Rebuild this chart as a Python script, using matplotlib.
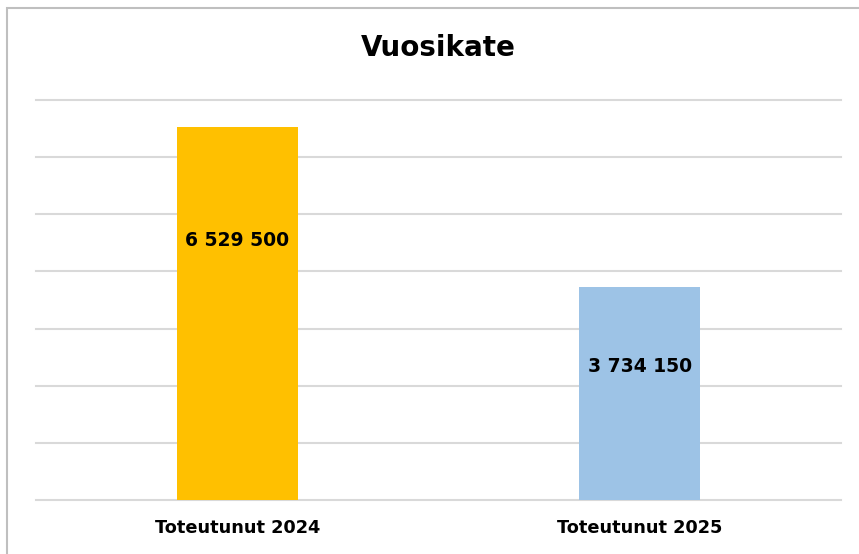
import matplotlib.pyplot as plt
from matplotlib.patches import Rectangle

# data
categories = ['Toteutunut 2024', 'Toteutunut 2025']
values = [6529500, 3734150]
colors = ['#FFC000', '#9DC3E6']
# where the value labels sit (data units), as placed in the original chart
label_y = [4550000, 2345000]

fig = plt.figure(figsize=(8.59, 5.54), dpi=100)
# chart border (only left/top visible in the crop)
fig.patches.append(Rectangle((7/859, -0.1), 1.2, 1.1 - 8/554, transform=fig.transFigure,
                             fill=False, edgecolor='#BFBFBF', linewidth=1.5))

ax = fig.add_axes([36/859, 1 - 500/554, 805/859, 400/554])
x = range(len(categories))
bars = ax.bar(x, values, width=0.30, color=colors, zorder=3)

for b, v, ly in zip(bars, values, label_y):
    label = f'{v:,}'.replace(',', ' ')
    ax.text(b.get_x() + b.get_width()/2, ly, label, ha='center', va='center',
            fontsize=13.5, fontweight='bold', color='black', zorder=4)

ax.set_xlim(-0.5, 1.5)
ax.set_ylim(0, 7000000)
ax.set_yticks(range(0, 7000001, 1000000))
ax.yaxis.grid(True, color='#D9D9D9', linewidth=1.5, zorder=0)
for gl in ax.get_ygridlines():
    gl.set_clip_on(False)
ax.tick_params(axis='y', length=0, labelleft=False)
ax.tick_params(axis='x', length=0, pad=14)
ax.set_xticks(list(x))
ax.set_xticklabels(categories, fontsize=12.8, fontweight='bold')
for s in ax.spines.values():
    s.set_visible(False)

fig.text(438/859, 1 - 48/554, 'Vuosikate', ha='center', va='center',
         fontsize=20, fontweight='bold')

fig.savefig('out.png', dpi=100)
